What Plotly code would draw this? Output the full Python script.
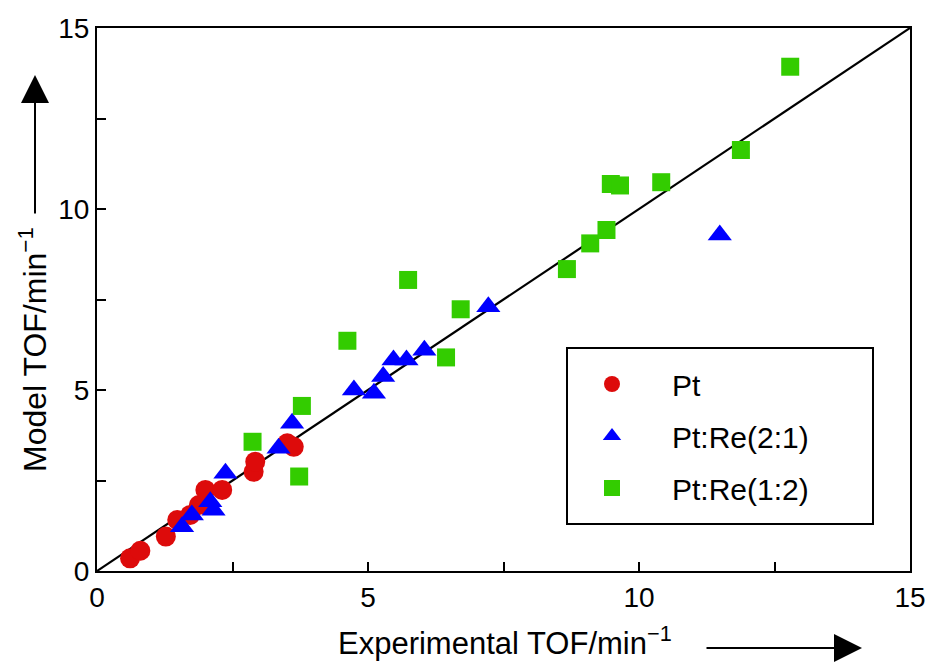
import plotly.graph_objects as go

# ---- data ----
pt_x = [0.61, 0.80, 1.27, 1.48, 1.72, 1.88, 2.00, 2.31, 2.89, 2.92, 3.51, 3.63]
pt_y = [0.35, 0.56, 0.95, 1.41, 1.55, 1.82, 2.24, 2.24, 2.74, 3.02, 3.53, 3.43]

re21_x = [1.57, 1.75, 2.09, 2.15, 2.37, 3.35, 3.60, 4.74, 5.11, 5.28, 5.47, 5.71, 6.04, 7.22, 11.49]
re21_y = [1.22, 1.55, 1.91, 1.68, 2.70, 3.39, 4.08, 5.00, 4.91, 5.37, 5.83, 5.83, 6.10, 7.30, 9.28]

re12_x = [2.87, 3.78, 3.73, 4.62, 5.74, 6.71, 6.44, 8.67, 9.10, 9.40, 9.48, 9.65, 10.41, 11.88, 12.79]
re12_y = [3.57, 4.56, 2.61, 6.36, 8.04, 7.23, 5.90, 8.34, 9.05, 9.42, 10.69, 10.65, 10.74, 11.63, 13.93]

parity = [0, 15]
tick_vals = [0, 5, 10, 15]
tick_text = ["0", "5", "10", "15"]
names = ["Pt", "Pt:Re(2:1)", "Pt:Re(1:2)"]

FONT = "Liberation Sans, Arial, Helvetica, sans-serif"

fig = go.Figure()
fig.add_trace(go.Scatter(x=parity, y=parity, mode="lines",
                         line=dict(color="black", width=2.2), showlegend=False,
                         hoverinfo="skip"))
fig.add_trace(go.Scatter(x=pt_x, y=pt_y, mode="markers", name=names[0], legendgroup="a",
                         marker=dict(symbol="circle", size=20, color="#dd0b0b")))
fig.add_trace(go.Scatter(x=re21_x, y=re21_y, mode="markers", name=names[1], legendgroup="b",
                         marker=dict(symbol="triangle-up", size=21, color="#0000ff")))
fig.add_trace(go.Scatter(x=re12_x, y=re12_y, mode="markers", name=names[2], legendgroup="c",
                         marker=dict(symbol="square", size=18, color="#33cc00")))

axis_common = dict(
    showgrid=False, zeroline=False, showline=True, linecolor="black", linewidth=2,
    mirror=True, ticks="inside", ticklen=9, tickwidth=2, tickcolor="black",
    tickfont=dict(family=FONT, size=28, color="black"),
    minor=dict(dtick=2.5, ticks="inside", ticklen=9, tickwidth=2, tickcolor="black"),
    range=[0, 15], tickmode="array", tickvals=tick_vals, ticktext=tick_text,
    automargin=False,
)
fig.update_xaxes(**axis_common)
fig.update_yaxes(**axis_common)

# legend box
fig.add_shape(type="rect", xref="paper", yref="paper",
              x0=(567 - 97) / 813, x1=(873 - 97) / 813,
              y0=(571 - 524) / 543, y1=(571 - 348) / 543,
              line=dict(color="black", width=2), fillcolor="white", layer="above")

annotations = [
    # axis titles
    dict(xref="paper", yref="paper", x=(505 - 97) / 813, y=(571 - 641) / 543,
         text="Experimental TOF/min<sup>−1</sup>", showarrow=False,
         font=dict(family=FONT, size=31, color="black"), xanchor="center", yanchor="middle"),
    dict(xref="paper", yref="paper", x=(33 - 97) / 813, y=(571 - 350) / 543,
         text="Model TOF/min<sup>−1</sup>", showarrow=False, textangle=-90,
         font=dict(family=FONT, size=32, color="black"), xanchor="center", yanchor="middle"),
    # arrows
    dict(xref="paper", yref="paper", x=(862 - 97) / 813, y=(571 - 648) / 543,
         ax=-157, ay=0, text="", showarrow=True, arrowhead=2, arrowsize=2.8,
         arrowwidth=2, arrowcolor="black"),
    dict(xref="paper", yref="paper", x=(35 - 97) / 813, y=(571 - 75) / 543,
         ax=0, ay=140, text="", showarrow=True, arrowhead=2, arrowsize=2.8,
         arrowwidth=2, arrowcolor="black"),
]

fig.update_layout(
    width=928, height=663,
    margin=dict(l=97, r=18, t=28, b=92, autoexpand=False),
    plot_bgcolor="white", paper_bgcolor="white",
    font=dict(family=FONT, color="black"),
    annotations=annotations,
    legend=dict(x=(552 - 97) / 813, y=(571 - 358) / 543, xanchor="left", yanchor="top",
                bgcolor="rgba(0,0,0,0)", borderwidth=0,
                font=dict(family=FONT, size=30, color="black"),
                itemwidth=110, tracegroupgap=10, traceorder="grouped"),
)

fig.write_html("out.html")
